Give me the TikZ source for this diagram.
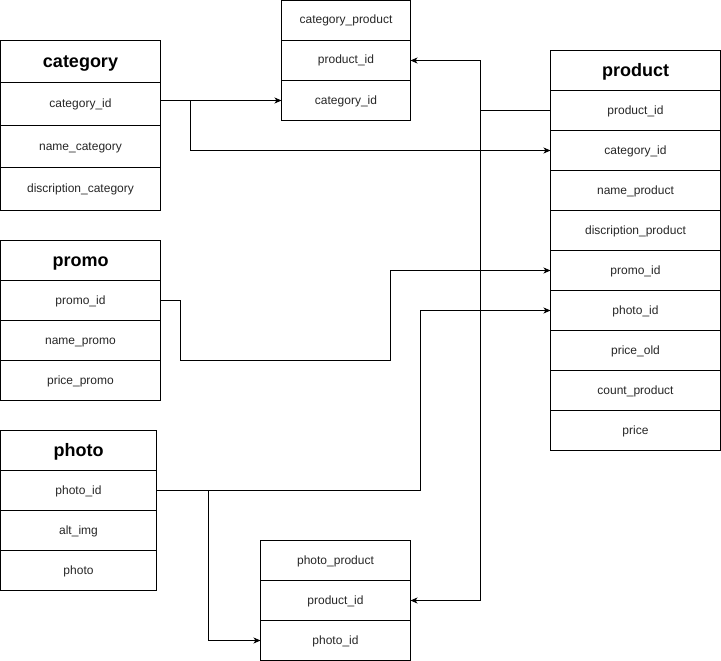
\documentclass[tikz,border=0pt]{standalone}
\usepackage{fontspec}
\setmainfont{Liberation Sans}
\usetikzlibrary{arrows.meta}
\begin{document}
\begin{tikzpicture}[x=1pt,y=-1pt,
  cell/.style={draw, line width=1pt, rectangle, inner sep=0pt, outer sep=0pt,
    anchor=north west, font=\fontsize{12}{14}\selectfont, text=black!85,
    text height=9pt, text depth=2pt},
  head/.style={cell, font=\bfseries\fontsize{18}{21}\selectfont, text=black,
    text height=14pt, text depth=2.5pt},
  wire/.style={line width=1pt},
  link/.style={wire, -{Stealth[length=7pt,width=6pt,inset=2pt]}}
]
\useasboundingbox (0,0) rectangle (721,661);

% category table
\begin{scope}[every node/.append style={minimum width=160pt}]
\node[head, minimum height=42pt] (cat-h) at (0.5,40.5) {category};
\node[cell, minimum height=42.67pt] (cat-id) at (cat-h.south west) {category\_id};
\node[cell, minimum height=42.67pt] (cat-name) at (cat-id.south west) {name\_category};
\node[cell, minimum height=42.67pt] (cat-desc) at (cat-name.south west) {discription\_category};
\end{scope}

% category_product link table
\begin{scope}[every node/.append style={minimum width=129pt, minimum height=40pt}]
\node[cell] (catp-h) at (281.5,0.5) {category\_product};
\node[cell] (catp-pid) at (catp-h.south west) {product\_id};
\node[cell] (catp-cid) at (catp-pid.south west) {category\_id};
\end{scope}

% product table
\begin{scope}[every node/.append style={minimum width=170pt, minimum height=40pt}]
\node[head] (prod-h) at (550.5,50.5) {product};
\node[cell] (prod-pid) at (prod-h.south west) {product\_id};
\node[cell] (prod-cid) at (prod-pid.south west) {category\_id};
\node[cell] (prod-name) at (prod-cid.south west) {name\_product};
\node[cell] (prod-desc) at (prod-name.south west) {discription\_product};
\node[cell] (prod-promo) at (prod-desc.south west) {promo\_id};
\node[cell] (prod-photo) at (prod-promo.south west) {photo\_id};
\node[cell] (prod-old) at (prod-photo.south west) {price\_old};
\node[cell] (prod-count) at (prod-old.south west) {count\_product};
\node[cell] (prod-price) at (prod-count.south west) {price};
\end{scope}

% promo table
\begin{scope}[every node/.append style={minimum width=160pt, minimum height=40pt}]
\node[head] (promo-h) at (0.5,240.5) {promo};
\node[cell] (promo-id) at (promo-h.south west) {promo\_id};
\node[cell] (promo-name) at (promo-id.south west) {name\_promo};
\node[cell] (promo-price) at (promo-name.south west) {price\_promo};
\end{scope}

% photo table
\begin{scope}[every node/.append style={minimum width=156pt, minimum height=40pt}]
\node[head] (ph-h) at (0.5,430.5) {photo};
\node[cell] (ph-id) at (ph-h.south west) {photo\_id};
\node[cell] (ph-alt) at (ph-id.south west) {alt\_img};
\node[cell] (ph-img) at (ph-alt.south west) {photo};
\end{scope}

% photo_product link table
\begin{scope}[every node/.append style={minimum width=150pt, minimum height=40pt}]
\node[cell] (php-h) at (260.5,540.5) {photo\_product};
\node[cell] (php-pid) at (php-h.south west) {product\_id};
\node[cell] (php-phid) at (php-pid.south west) {photo\_id};
\end{scope}

% relations
\coordinate (jc) at (190.5,100.5);
\coordinate (jp) at (480.5,110.5);
\coordinate (jh) at (208.5,490.5);

\draw[link] (catp-cid.west -| cat-id.east) -- (catp-cid.west);
\draw[link] (jc) |- (prod-cid.west);

\draw[wire] (prod-pid.west) -- (jp);
\draw[link] (jp) |- (catp-pid.east);
\draw[link] (jp) |- (php-pid.east);

\draw[link] (promo-id.east) -| (180.5,360.5) -| (390.5,270.5) -- (prod-promo.west);
\draw[link] (ph-id.east) -| (420.5,310.5) -- (prod-photo.west);
\draw[link] (jh) |- (php-phid.west);
\end{tikzpicture}
\end{document}
